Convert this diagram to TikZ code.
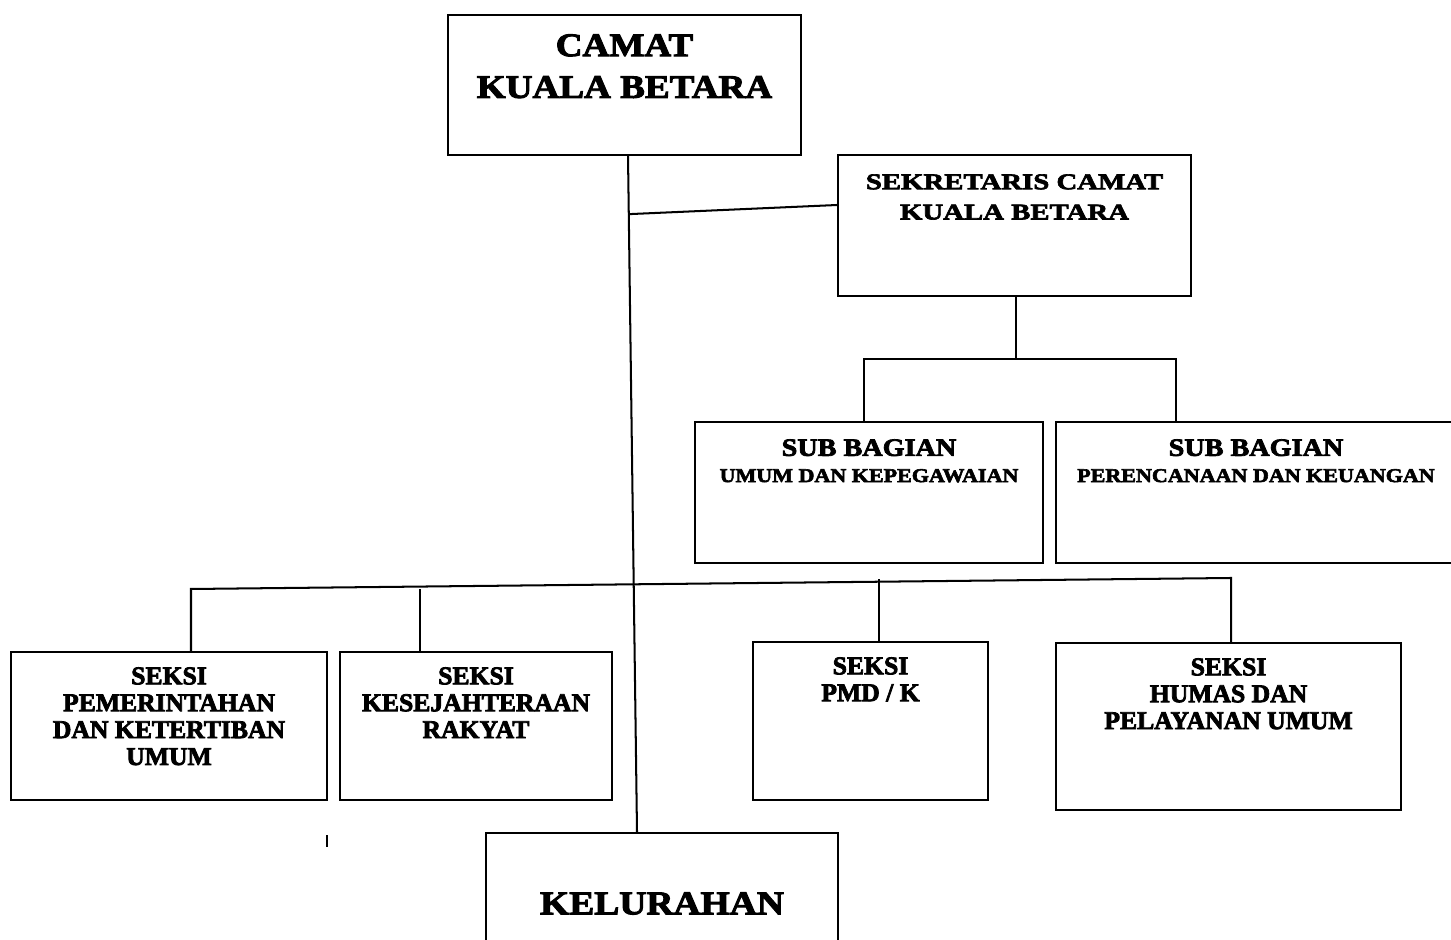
\documentclass[tikz,border=0pt]{standalone}
\usepackage{fontspec}
\setmainfont{Liberation Serif}
\newfontfamily\widefont{Liberation Serif}[FakeStretch=1.28,FakeBold=3]
\newfontfamily\midfont{Liberation Serif}[FakeStretch=1.13,FakeBold=3]
\newfontfamily\plainfont{Liberation Serif}[FakeBold=3]
\usetikzlibrary{calc}

\begin{document}
\begin{tikzpicture}[
        unit/.style={rectangle, draw=black, line width=1.15pt, inner sep=0pt},
        boxtext/.style={anchor=north, inner sep=0pt, align=center},
        seksitext/.style={boxtext, font=\plainfont\bfseries\fontsize{14.6}{15.3}\selectfont},
        link/.style={line width=1.15pt},
    ]
        \clip (0,0) rectangle (29.02,-18.8);

        % boxes
        \node[unit, minimum width=7.06cm, minimum height=2.80cm] (camat) at (12.49,-1.70) {};
        \node[unit, minimum width=7.06cm, minimum height=2.82cm] (sekcam) at (20.29,-4.51) {};
        \node[unit, minimum width=6.96cm, minimum height=2.82cm] (subumum) at (17.38,-9.85) {};
        \node[unit, minimum width=8.00cm, minimum height=2.82cm] (subren) at (25.12,-9.85) {};
        \node[unit, minimum width=6.32cm, minimum height=2.96cm] (seksi1) at (3.38,-14.52) {};
        \node[unit, minimum width=5.44cm, minimum height=2.96cm] (seksi2) at (9.52,-14.52) {};
        \node[unit, minimum width=4.70cm, minimum height=3.16cm] (seksi3) at (17.41,-14.42) {};
        \node[unit, minimum width=6.90cm, minimum height=3.34cm] (seksi4) at (24.57,-14.53) {};
        \node[unit, minimum width=7.04cm, minimum height=2.82cm,
              font=\midfont\bfseries\fontsize{18.9}{22}\selectfont] (kel) at (13.24,-18.07) {KELURAHAN};

        % texts
        \node[boxtext, font=\midfont\bfseries\fontsize{18.7}{23.8}\selectfont] (camat_lbl) at ([yshift=-0.40cm]camat.north) {CAMAT\\KUALA BETARA};
        \node[boxtext, font=\widefont\bfseries\fontsize{12.8}{17.2}\selectfont] (sekcam_lbl) at ([yshift=-0.40cm]sekcam.north) {SEKRETARIS CAMAT\\KUALA BETARA};
        \node[boxtext, font=\midfont\bfseries\fontsize{14.2}{14.9}\selectfont] (subumum_lbl) at ([yshift=-0.36cm]subumum.north) {SUB BAGIAN\\{\fontsize{11.1}{14.9}\selectfont UMUM DAN KEPEGAWAIAN}};
        \node[boxtext, font=\midfont\bfseries\fontsize{14.2}{14.9}\selectfont] (subren_lbl) at ([yshift=-0.36cm]subren.north) {SUB BAGIAN\\{\fontsize{11.1}{14.9}\selectfont PERENCANAAN DAN KEUANGAN}};
        \node[seksitext] (seksi1_lbl) at ([yshift=-0.32cm]seksi1.north) {SEKSI\\PEMERINTAHAN\\DAN KETERTIBAN\\UMUM};
        \node[seksitext] (seksi2_lbl) at ([yshift=-0.32cm]seksi2.north) {SEKSI\\KESEJAHTERAAN\\RAKYAT};
        \node[seksitext] (seksi3_lbl) at ([yshift=-0.32cm]seksi3.north) {SEKSI\\PMD / K};
        \node[seksitext] (seksi4_lbl) at ([yshift=-0.32cm]seksi4.north) {SEKSI\\HUMAS DAN\\PELAYANAN UMUM};

        % camat down to kelurahan, branch to sekretaris
        \coordinate (ctop) at ([xshift=0.07cm]camat.south);
        \coordinate (kelin) at ([xshift=-0.5cm]kel.north);
        \draw[link] (ctop) -- (kelin);
        \coordinate (jsek) at ($(ctop)!0.086!(kelin)$);
        \draw[link] (jsek) -- ([yshift=0.41cm]sekcam.west);

        % sekretaris to sub bagian
        \draw[link] ([xshift=0.03cm]sekcam.south) -- ++(0,-1.24) coordinate (bsub);
        \draw[link] ([xshift=-0.1cm]subumum.north) |- (bsub) -| ([xshift=-1.6cm]subren.north);

        % seksi bus
        \coordinate (s1top) at ([xshift=0.44cm]seksi1.north);
        \coordinate (s2top) at ([xshift=-1.12cm]seksi2.north);
        \coordinate (s3top) at ([xshift=0.17cm]seksi3.north);
        \coordinate (s4top) at ([xshift=0.05cm]seksi4.north);
        \coordinate (busL) at ([yshift=1.24cm]s1top);
        \coordinate (busR) at ([yshift=1.28cm]s4top);
        \draw[link] (s1top) -- (busL) -- (busR) -- (s4top);
        \draw[link] (s2top) -- (s2top |- busL);
        \draw[link] (s3top) -- ++(0,1.24);

        % stray tick
        \draw[link] (6.54,-16.70) -- (6.54,-16.94);
\end{tikzpicture}
\end{document}
